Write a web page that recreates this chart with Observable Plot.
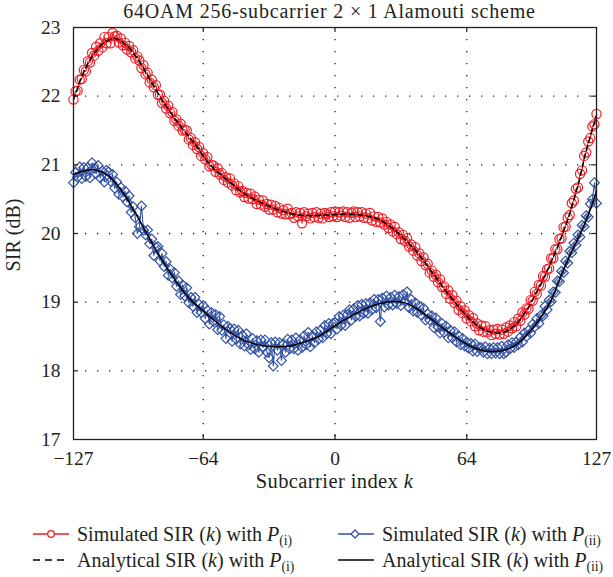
<!DOCTYPE html>
<html><head><meta charset="utf-8">
<script src="https://cdn.jsdelivr.net/npm/d3@7"></script>
<script src="https://cdn.jsdelivr.net/npm/@observablehq/plot@0.6"></script>
<style>
body{margin:0;background:#fff;}
#wrap{position:relative;width:613px;height:577px;overflow:hidden;font-family:"Liberation Serif","Times New Roman",serif;color:#231f20;}
.abs{position:absolute;white-space:nowrap;}
sub{font-size:0.68em;vertical-align:-0.3em;line-height:0;}
.leg{font-size:20px;line-height:20px;}
</style></head><body>
<div id="wrap">
  <div class="abs" style="left:63px;width:533px;top:1px;text-align:center;font-size:20px;line-height:20px;letter-spacing:0.8px;">64QAM 256-subcarrier 2 × 1 Alamouti scheme</div>
  <div id="chart" class="abs" style="left:0;top:18px;"></div>
  <div class="abs" style="left:-47px;top:225px;width:120px;height:20px;text-align:center;font-size:20px;line-height:20px;transform:rotate(-90deg);">SIR (dB)</div>
  <div class="abs" style="left:73px;width:523px;top:471px;text-align:center;font-size:20.5px;line-height:20px;letter-spacing:0.4px;">Subcarrier index <i>k</i></div>
  <div id="legend"></div>
</div>
<script>
// Subcarrier indices
const kIndex = d3.range(-127, 128);

// Simulated SIR(k) with P(i)  (red circles), k = -127..127
const simP1 = [
21.95,22.07,22.08,22.24,22.25,22.38,
22.36,22.51,22.49,22.63,22.59,
22.72,22.66,22.77,22.71,22.86,
22.77,22.86,22.77,22.92,22.87,
22.88,22.78,22.84,22.74,22.78,
22.68,22.73,22.64,22.67,22.55,22.58,
22.52,22.41,22.45,22.32,22.34,22.20,
22.24,22.13,22.16,22.02,22.02,21.90,21.93,
21.82,21.86,21.75,21.77,21.64,21.66,21.57,
21.60,21.50,21.51,21.50,21.37,21.39,21.29,21.33,
21.23,21.26,21.13,21.17,21.08,21.11,20.98,21.00,
20.99,20.90,20.95,20.86,20.88,20.78,20.82,20.74,
20.80,20.70,20.73,20.63,20.69,20.60,20.62,20.53,
20.59,20.51,20.58,20.50,20.54,20.43,20.49,20.42,
20.48,20.39,20.43,20.35,20.42,20.35,20.40,20.31,
20.37,20.29,20.34,20.28,20.36,20.28,20.30,20.23,
20.31,20.25,20.30,20.15,20.31,20.25,20.29,20.22,
20.30,20.24,20.31,20.23,20.29,20.22,20.30,20.28,
20.24,20.31,20.25,20.32,20.24,20.31,20.26,20.32,
20.24,20.31,20.23,20.30,20.32,20.24,20.31,20.25,
20.31,20.23,20.29,20.22,20.30,20.19,20.25,20.17,
20.24,20.16,20.22,20.13,20.17,20.08,
20.13,20.03,20.10,19.99,20.02,19.92,
19.98,19.89,19.93,19.81,19.84,19.75,19.80,19.68,
19.71,19.60,19.65,19.54,19.56,19.43,19.46,19.37,
19.40,19.29,19.33,19.22,19.23,19.12,19.17,19.05,
19.10,18.99,19.02,18.89,18.94,18.84,18.88,18.76,
18.81,18.72,18.77,18.65,18.69,18.59,
18.66,18.57,18.65,18.56,18.59,18.52,
18.60,18.54,18.61,18.53,18.60,18.54,
18.63,18.57,18.66,18.62,18.71,18.65,
18.76,18.73,18.85,18.82,18.91,
18.90,19.03,19.02,19.15,19.12,
19.25,19.24,19.38,19.37,19.48,
19.49,19.64,19.64,19.77,19.77,
19.92,19.93,20.09,20.10,20.23,
20.27,20.44,20.48,20.65,20.67,
20.87,20.92,21.13,21.18,
21.34,21.39,21.56,21.59,21.74];

// Simulated SIR(k) with P(ii)  (blue diamonds), k = -127..127
const simP2 = [
20.74,20.89,20.82,20.97,20.80,20.96,
20.83,20.96,20.81,21.03,20.95,
20.87,20.99,20.81,20.91,20.75,20.92,
20.90,20.76,20.86,20.66,20.75,20.57,20.67,
20.53,20.62,20.46,20.55,20.31,20.39,20.23,
20.00,20.10,20.40,20.05,19.98,20.05,19.85,
19.92,19.68,19.80,19.81,19.60,
19.71,19.52,19.59,19.39,19.48,
19.35,19.43,19.23,19.31,19.11,
19.25,19.09,19.21,18.99,19.07,
18.94,19.07,18.85,18.97,18.85,18.95,
18.76,18.88,18.68,18.85,18.72,18.82,
18.60,18.79,18.59,18.67,18.47,18.65,
18.61,18.43,18.61,18.46,18.59,18.39,
18.52,18.36,18.54,18.38,18.31,18.47,
18.32,18.44,18.27,18.45,18.34,18.45,
18.27,18.19,18.41,18.07,18.42,18.30,
18.41,18.15,18.39,18.27,18.46,18.32,
18.45,18.32,18.48,18.30,18.45,18.34,
18.51,18.38,18.56,18.35,18.51,18.41,18.57,18.46,
18.59,18.48,18.66,18.54,18.69,18.54,18.69,18.70,
18.61,18.79,18.66,18.81,18.66,18.82,18.89,18.74,
18.90,18.79,18.95,18.80,18.97,18.84,18.98,18.84,
18.99,18.89,19.04,18.92,19.04,18.72,
19.06,18.93,19.09,18.96,19.07,18.96,
19.10,18.98,19.08,18.95,19.11,19.01,
19.15,18.92,19.04,18.87,18.99,18.85,
18.94,18.81,18.91,18.74,18.83,18.74,
18.80,18.63,18.77,18.64,18.55,18.69,
18.56,18.65,18.48,18.59,18.48,18.57,
18.42,18.51,18.38,18.47,18.36,18.42,
18.33,18.40,18.29,18.39,18.28,18.34,
18.34,18.27,18.35,18.25,18.33,18.25,
18.34,18.26,18.34,18.25,18.36,18.25,
18.27,18.38,18.32,18.41,18.34,18.42,
18.38,18.49,18.42,18.55,18.50,18.59,
18.55,18.68,18.64,18.76,18.69,18.81,
18.80,18.94,18.89,19.03,19.01,
19.15,19.14,19.31,19.30,19.45,
19.43,19.60,19.57,19.74,19.72,
19.86,19.83,19.98,19.95,20.12,
20.10,20.26,20.24,20.43,
20.50,20.74,20.44];

// Analytical SIR(k) with P(i) (dashed) — read at these subcarriers
const anaKP1 = [-127,-122,-117,-112,-107,-102,-96,-90,-83,-76,-68,-60,-52,-44,-36,-28,-20,-12,-4,4,12,20,26,32,40,48,56,64,70,76,82,88,93,98,103,108,113,118,122,127];
const anaP1  = [21.95,22.35,22.62,22.78,22.84,22.76,22.55,22.25,21.90,21.60,21.30,20.98,20.77,20.58,20.45,20.35,20.28,20.26,20.27,20.28,20.27,20.22,20.12,19.97,19.72,19.40,19.08,18.80,18.64,18.56,18.56,18.68,18.88,19.15,19.45,19.80,20.20,20.70,21.20,21.72];

// Analytical SIR(k) with P(ii) (solid)
const anaKP2 = [-127,-122,-117,-111,-104,-97,-90,-85,-80,-75,-70,-64,-58,-52,-46,-40,-34,-28,-22,-16,-8,0,8,16,22,28,34,40,46,52,58,64,70,76,82,88,94,100,105,110,115,120,124,127];
const anaP2  = [20.86,20.91,20.93,20.86,20.64,20.30,19.92,19.66,19.43,19.21,19.03,18.87,18.72,18.58,18.47,18.40,18.36,18.35,18.36,18.41,18.50,18.66,18.80,18.92,18.98,19.01,18.99,18.90,18.77,18.63,18.50,18.39,18.31,18.28,18.30,18.38,18.55,18.78,19.03,19.40,19.74,20.05,20.35,20.62];

// Axis ticks
const xTicks = [-127, -64, 0, 64, 127];
const xTickLabels = ["\u2212127", "\u221264", "0", "64", "127"];
const yTicks = [17, 18, 19, 20, 21, 22, 23];
const yTickLabels = ["17", "18", "19", "20", "21", "22", "23"];
const xGrid = [-64, 0, 64];
const yGrid = [18, 19, 20, 21, 22];

const RED = "#ee1d25", BLUE = "#3352a3", INK = "#231f20";
const SERIF = '"Liberation Serif","Times New Roman",serif';

const n1 = Math.min(kIndex.length, simP1.length);
const n2 = Math.min(kIndex.length, simP2.length);
const sim1 = d3.range(n1).map(i => ({k: kIndex[i], v: simP1[i]}));
const sim2 = d3.range(n2).map(i => ({k: kIndex[i], v: simP2[i]}));
const ana1 = anaKP1.map((k, i) => ({k, v: anaP1[i]}));
const ana2 = anaKP2.map((k, i) => ({k, v: anaP2[i]}));

const H = 457, MT = 9, MB = 36, ML = 73, MR = 17;
const frameH = H - MT - MB, frameW = 613 - ML - MR, T = 5;

const chart = Plot.plot({
  width: 613, height: H,
  marginTop: MT, marginBottom: MB, marginLeft: ML, marginRight: MR,
  style: {fontFamily: SERIF, fontSize: "19.5px", color: INK, background: "white"},
  x: {domain: [-127, 127], ticks: xTicks, tickFormat: d => xTickLabels[xTicks.indexOf(d)], tickSize: 0, tickPadding: 12, label: null},
  y: {domain: [17, 23], ticks: yTicks, tickFormat: d => yTickLabels[yTicks.indexOf(d)], tickSize: 0, tickPadding: 13, label: null},
  marks: [
    Plot.ruleX(xGrid, {x: d => d, stroke: INK, strokeWidth: 1.3, strokeDasharray: "1.3,10.7"}),
    Plot.ruleY(yGrid, {y: d => d, stroke: INK, strokeWidth: 1.3, strokeDasharray: "1.3,10.7"}),
    Plot.line(sim1, {x: "k", y: "v", stroke: RED, strokeWidth: 1.1}),
    Plot.dot(sim1, {x: "k", y: "v", r: 4.6, stroke: RED, fill: "none", strokeWidth: 1.2}),
    Plot.line(sim2, {x: "k", y: "v", stroke: BLUE, strokeWidth: 1.1}),
    Plot.dot(sim2, {x: "k", y: "v", symbol: "diamond2", r: 4.4, stroke: BLUE, fill: "none", strokeWidth: 1.2}),
    Plot.line(ana1, {x: "k", y: "v", curve: "catmull-rom", stroke: "black", strokeWidth: 1.5, strokeDasharray: "5,3.5"}),
    Plot.line(ana2, {x: "k", y: "v", curve: "catmull-rom", stroke: "black", strokeWidth: 1.5}),
    Plot.tickX(xGrid, {x: d => d, insetTop: frameH - T, stroke: INK, strokeWidth: 1.2}),
    Plot.tickX(xGrid, {x: d => d, insetBottom: frameH - T, stroke: INK, strokeWidth: 1.2}),
    Plot.tickY(yGrid, {y: d => d, insetRight: frameW - T, stroke: INK, strokeWidth: 1.2}),
    Plot.tickY(yGrid, {y: d => d, insetLeft: frameW - T, stroke: INK, strokeWidth: 1.2}),
    Plot.frame({stroke: INK, strokeWidth: 1.3})
  ]
});
document.getElementById("chart").appendChild(chart);

// Legend (below the plot)
const legendItems = [
  {x: 33, y: 524, kind: "sim", color: RED, symbol: "circle", html: 'Simulated SIR (<i>k</i>) with <i>P</i><sub>(i)</sub>'},
  {x: 338, y: 524, kind: "sim", color: BLUE, symbol: "diamond", html: 'Simulated SIR (<i>k</i>) with <i>P</i><sub>(ii)</sub>'},
  {x: 33, y: 550, kind: "dash", color: "black", html: 'Analytical SIR (<i>k</i>) with <i>P</i><sub>(i)</sub>'},
  {x: 338, y: 550, kind: "solid", color: "black", html: 'Analytical SIR (<i>k</i>) with <i>P</i><sub>(ii)</sub>'}
];
const wrap = d3.select("#wrap");
for (const it of legendItems) {
  const s = wrap.append("svg").attr("width", 40).attr("height", 20)
    .style("position", "absolute").style("left", it.x + "px").style("top", (it.y) + "px");
  const ly = 10;
  const line = s.append("line").attr("x1", 0).attr("x2", 36).attr("y1", ly).attr("y2", ly)
    .attr("stroke", it.color).attr("stroke-width", it.kind === "sim" ? 1.3 : 1.5);
  if (it.kind === "dash") line.attr("stroke-dasharray", "7,5");
  if (it.symbol === "circle") s.append("circle").attr("cx", 18).attr("cy", ly).attr("r", 3.3).attr("fill", "white").attr("stroke", it.color).attr("stroke-width", 1.3);
  if (it.symbol === "diamond") s.append("path").attr("d", `M17,${ly-4}L21,${ly}L17,${ly+4}L13,${ly}Z`).attr("fill", "white").attr("stroke", it.color).attr("stroke-width", 1.3);
  wrap.append("div").attr("class", "abs leg").style("left", (it.x + 44) + "px").style("top", it.y + "px").html(it.html);
}
</script>
</body></html>
